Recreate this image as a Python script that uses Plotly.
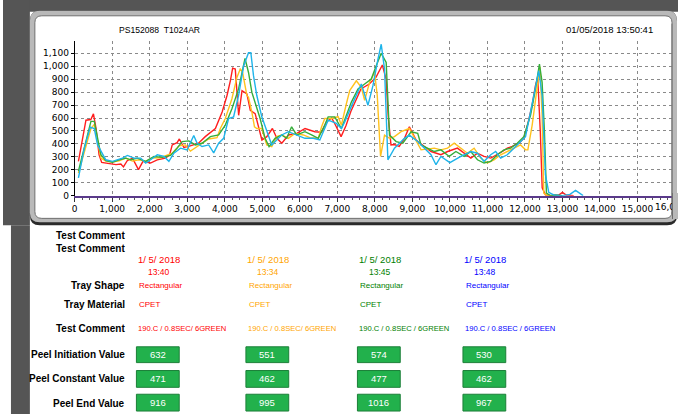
import plotly.graph_objects as go

W, H = 678, 419

# ---------------- data ----------------
red_x = [100, 300, 430, 500, 570, 650, 720, 900, 1100, 1230, 1300, 1400, 1540, 1700, 1820, 2020, 2200, 2420, 2530, 2600, 2730, 2790, 2910, 3080, 3300, 3480, 3750, 3930, 4060, 4150, 4210, 4280, 4370, 4460, 4590, 4680, 4810, 4990, 5120, 5270, 5390, 5520, 5700, 5920, 6140, 6400, 6580, 6710, 6850, 6960, 7100, 7230, 7360, 7630, 7850, 8030, 8200, 8300, 8360, 8430, 8520, 8650, 8790, 8920, 9100, 9320, 9500, 9760, 9940, 10200, 10380, 10560, 10735, 10910, 11090, 11265, 11400, 11530, 11660, 11840, 11970, 12080, 12190, 12280, 12340, 12410, 12460, 12550, 12700, 12900, 13000, 13100, 13300]
red_y = [265, 583, 588, 632, 519, 316, 257, 247, 240, 245, 222, 270, 290, 201, 265, 252, 277, 290, 316, 392, 410, 438, 372, 385, 405, 456, 519, 647, 774, 889, 985, 978, 621, 812, 787, 659, 634, 430, 456, 519, 443, 405, 469, 481, 519, 494, 490, 570, 600, 540, 456, 540, 650, 825, 863, 914, 1010, 900, 600, 392, 395, 380, 443, 532, 430, 380, 341, 316, 341, 367, 328, 290, 328, 303, 290, 316, 341, 367, 380, 405, 443, 558, 698, 850, 916, 494, 61, 5, 0, 5, 25, 5, 0]

yel_x = [100, 300, 433, 522, 637, 700, 830, 1000, 1185, 1361, 1538, 1715, 1892, 2069, 2290, 2467, 2600, 2777, 2953, 3085, 3218, 3395, 3572, 3793, 3882, 4014, 4191, 4324, 4412, 4470, 4589, 4633, 4721, 4792, 4854, 4987, 5119, 5252, 5385, 5517, 5695, 5870, 6092, 6268, 6491, 6580, 6666, 6843, 7021, 7109, 7241, 7330, 7507, 7639, 7728, 7860, 7993, 8064, 8152, 8258, 8390, 8523, 8700, 8921, 9231, 9584, 9761, 9938, 10115, 10292, 10469, 10646, 10822, 10999, 11176, 11353, 11530, 11706, 11883, 12016, 12078, 12193, 12326, 12400, 12458, 12502, 12590, 13000]
yel_y = [175, 370, 519, 551, 392, 290, 267, 260, 270, 290, 267, 277, 265, 290, 293, 316, 328, 385, 392, 344, 372, 405, 438, 448, 519, 596, 749, 914, 978, 960, 774, 760, 647, 532, 519, 519, 392, 379, 456, 469, 443, 481, 469, 448, 443, 532, 596, 596, 610, 545, 710, 812, 888, 838, 736, 876, 952, 774, 303, 468, 443, 456, 494, 519, 354, 367, 354, 367, 405, 367, 328, 367, 290, 252, 277, 316, 341, 367, 392, 354, 354, 545, 825, 995, 621, 20, 0, 0]

grn_x = [100, 300, 433, 522, 610, 698, 830, 1007, 1184, 1361, 1494, 1671, 1892, 2113, 2334, 2555, 2732, 2865, 3041, 3218, 3395, 3616, 3837, 4014, 4191, 4368, 4540, 4633, 4721, 4854, 4942, 5075, 5181, 5340, 5517, 5650, 5782, 5915, 6136, 6313, 6491, 6666, 6756, 6931, 7109, 7374, 7551, 7728, 7905, 8037, 8170, 8302, 8390, 8568, 8745, 8966, 9143, 9231, 9584, 9761, 9982, 10159, 10380, 10557, 10735, 10910, 11088, 11265, 11441, 11618, 11795, 11971, 12149, 12281, 12387, 12458, 12520, 12573, 12679, 12800, 13000]
grn_y = [190, 418, 574, 574, 443, 316, 270, 257, 277, 290, 277, 290, 265, 303, 296, 311, 367, 418, 423, 392, 405, 456, 469, 545, 672, 825, 1060, 952, 800, 685, 596, 443, 379, 443, 469, 443, 532, 469, 494, 469, 443, 545, 609, 609, 519, 723, 825, 863, 901, 1003, 1100, 1029, 468, 418, 405, 494, 481, 392, 341, 354, 303, 341, 303, 341, 277, 252, 265, 316, 354, 367, 405, 456, 621, 825, 1016, 876, 494, 20, 0, 5, 0]

cyn_x = [100, 257, 416, 522, 610, 698, 830, 1007, 1140, 1273, 1406, 1582, 1759, 1892, 2025, 2202, 2379, 2511, 2644, 2821, 2997, 3174, 3263, 3395, 3572, 3705, 3837, 3970, 4102, 4235, 4368, 4500, 4633, 4695, 4766, 4854, 4987, 5119, 5252, 5385, 5517, 5695, 5915, 6136, 6357, 6534, 6756, 6976, 7109, 7198, 7374, 7639, 7816, 7949, 8082, 8170, 8258, 8347, 8523, 8788, 8921, 9143, 9496, 9629, 9761, 10000, 10292, 10557, 10735, 10910, 11088, 11220, 11353, 11530, 11706, 11883, 12016, 12149, 12281, 12369, 12458, 12546, 12635, 12767, 13000, 13200, 13350, 13450, 13550]
cyn_y = [137, 367, 530, 519, 392, 341, 277, 265, 277, 290, 311, 290, 290, 252, 277, 316, 303, 265, 328, 367, 354, 465, 405, 380, 392, 330, 405, 443, 596, 608, 774, 1000, 1105, 1105, 927, 774, 609, 494, 392, 430, 469, 494, 469, 443, 443, 430, 583, 558, 519, 570, 690, 863, 698, 850, 1054, 1170, 978, 277, 367, 443, 468, 418, 316, 239, 303, 255, 303, 341, 328, 265, 316, 341, 290, 316, 367, 418, 456, 647, 850, 967, 774, 163, 25, 5, 0, 10, 40, 20, 0]

series_names = ["Red", "Yellow", "Green", "Blue"]
line_colors = ["#FF1E1E", "#FFC21E", "#35AE3A", "#1EB4EA"]
text_colors = ["#FF0000", "#FFA500", "#008000", "#0000FF"]

header_left = "PS152088  T1024AR"
header_right = "01/05/2018 13:50:41"

test_dates = ["1/ 5/ 2018", "1/ 5/ 2018", "1/ 5/ 2018", "1/ 5/ 2018"]
test_times = ["13:40", "13:34", "13:45", "13:48"]
tray_shape = ["Rectangular", "Rectangular", "Rectangular", "Rectangular"]
tray_material = ["CPET", "CPET", "CPET", "CPET"]
test_comment = ["190.C / 0.8SEC/ 6GREEN", "190.C / 0.8SEC/ 6GREEN", "190.C / 0.8SEC / 6GREEN", "190.C / 0.8SEC / 6GREEN"]
peel_initiation = [632, 551, 574, 530]
peel_constant = [471, 462, 477, 462]
peel_end = [916, 995, 1016, 967]

x_ticks = list(range(0, 16001, 1000))
y_ticks = list(range(0, 1101, 100))

# ---------------- helpers (pixel -> paper) ----------------
def fx(p):
    return p / W

def fy(p):
    return 1 - p / H

def rrect_path(x0, y0, x1, y1, r):
    pts = [
        ("M", [(x0 + r, y0)]), ("L", [(x1 - r, y0)]), ("Q", [(x1, y0), (x1, y0 + r)]),
        ("L", [(x1, y1 - r)]), ("Q", [(x1, y1), (x1 - r, y1)]), ("L", [(x0 + r, y1)]),
        ("Q", [(x0, y1), (x0, y1 - r)]), ("L", [(x0, y0 + r)]), ("Q", [(x0, y0), (x0 + r, y0)]),
    ]
    s = ""
    for cmd, ps in pts:
        s += cmd + " " + " ".join(f"{fx(a):.5f},{fy(b):.5f}" for a, b in ps) + " "
    return s + "Z"

fig = go.Figure()
for name, xs, ys, c in zip(series_names, [red_x, yel_x, grn_x, cyn_x], [red_y, yel_y, grn_y, cyn_y], line_colors):
    fig.add_trace(go.Scatter(x=xs, y=ys, mode="lines", name=name,
                             line=dict(color=c, width=1.4), hoverinfo="skip"))

BORDER = "#b9b9b9"
shapes = []
DARK = "#555555"
# dark background strips
shapes.append(dict(type="rect", xref="paper", yref="paper", x0=fx(0), x1=fx(W), y0=fy(0), y1=fy(12),
                   fillcolor=DARK, line=dict(width=0), layer="below"))
shapes.append(dict(type="rect", xref="paper", yref="paper", x0=fx(0), x1=fx(27), y0=fy(0), y1=fy(228),
                   fillcolor=DARK, line=dict(width=0), layer="below"))
shapes.append(dict(type="rect", xref="paper", yref="paper", x0=fx(8), x1=fx(27), y0=fy(228), y1=fy(H),
                   fillcolor=DARK, line=dict(width=0), layer="below"))
# panel
shapes.append(dict(type="path", xref="paper", yref="paper", path=rrect_path(27, 11, 677, 228, 10),
                   fillcolor="#2a2a2a", line=dict(width=0), layer="below"))
shapes.append(dict(type="path", xref="paper", yref="paper", path=rrect_path(27, 11, 677, 225, 10),
                   fillcolor=BORDER, line=dict(width=0), layer="below"))
shapes.append(dict(type="path", xref="paper", yref="paper", path=rrect_path(32, 16, 672, 221, 7),
                   fillcolor="#ffffff", line=dict(color="#6f6f6f", width=1), layer="below"))
# right border piece over the plot edge
shapes.append(dict(type="rect", xref="paper", yref="paper", x0=fx(672.5), x1=fx(677), y0=fy(24), y1=fy(216),
                   fillcolor=BORDER, line=dict(width=0), layer="above"))
shapes.append(dict(type="line", xref="paper", yref="paper", x0=fx(672), x1=fx(672), y0=fy(24), y1=fy(216),
                   line=dict(color="#6f6f6f", width=1), layer="above"))

annotations = []
def txt(t, x, y, size=9, color="#000000", xanchor="left", family="Liberation Sans", bold=False):
    annotations.append(dict(text=(f"<b>{t}</b>" if bold else t), x=fx(x), y=fy(y), xref="paper", yref="paper",
                            xanchor=xanchor, yanchor="middle", showarrow=False,
                            font=dict(size=size, color=color, family=family)))

txt(header_left, 115, 30, size=8.6)
txt(header_right, 655, 30, size=9.5, xanchor="right")

# last x tick label, cut by the panel border as in the source screenshot
txt(f"{x_ticks[-1]:,}"[:4], 653, 210, size=9, family="DejaVu Sans")
annotations.append(dict(text=" ", x=fx(675), y=fy(208), xref="paper", yref="paper", xanchor="center",
                        yanchor="middle", showarrow=False, width=6, height=26, bgcolor=BORDER,
                        borderpad=0, borderwidth=0, font=dict(size=9)))
annotations.append(dict(text=" ", x=fx(672), y=fy(208), xref="paper", yref="paper", xanchor="center",
                        yanchor="middle", showarrow=False, width=1, height=26, bgcolor="#6f6f6f",
                        borderpad=0, borderwidth=0, font=dict(size=9)))

LBL_R = 125
for label, yy in [("Test Comment", 238), ("Test Comment", 252), ("Tray Shape", 289), ("Tray Material", 308),
                  ("Test Comment", 332), ("Peel Initiation Value", 359), ("Peel Constant Value", 383),
                  ("Peel End Value", 408)]:
    txt(label, LBL_R, yy, size=10, xanchor="right", bold=True)

col_left = [134, 244, 356, 462]
box_w = 43
for i in range(4):
    cx = col_left[i] + box_w / 2 + 1
    c = text_colors[i]
    txt(test_dates[i], cx, 263, size=9.5, color=c, xanchor="center")
    txt(test_times[i], cx, 275, size=8.5, color=c, xanchor="center")
    txt(tray_shape[i], col_left[i] + 1, 289, size=8, color=c)
    txt(tray_material[i], col_left[i] + 1, 308, size=8, color=c)
    txt(test_comment[i], col_left[i], 332, size=7.6, color=c)
    for vals, (y0, y1) in [(peel_initiation, (351, 367)), (peel_constant, (375, 392)), (peel_end, (399, 416))]:
        shapes.append(dict(type="rect", xref="paper", yref="paper", x0=fx(col_left[i]), x1=fx(col_left[i] + box_w),
                           y0=fy(y0), y1=fy(y1), fillcolor="#22B14C", line=dict(color="#1c7f38", width=1)))
        txt(str(vals[i]), col_left[i] + box_w / 2, (y0 + y1) / 2, size=9.5, color="#ffffff", xanchor="center")

fig.update_layout(
    width=W, height=H, margin=dict(l=0, r=0, t=0, b=0),
    paper_bgcolor="#ffffff", plot_bgcolor="rgba(0,0,0,0)",
    showlegend=False, shapes=shapes, annotations=annotations,
    xaxis=dict(domain=[fx(72), fx(675)], range=[0, 16000], tickvals=x_ticks,
               ticktext=[f"{v:,}" if v < x_ticks[-1] else "" for v in x_ticks], showgrid=True,
               gridcolor="#8a8a8a", griddash="dot",
               gridwidth=1, zeroline=False, showline=True, linecolor="#5a3a8a", linewidth=2,
               ticks="outside", ticklen=4, tickcolor="#333333",
               minor=dict(dtick=200, ticks="outside", ticklen=2, tickcolor="#555555", showgrid=False),
               tickfont=dict(family="DejaVu Sans", size=9, color="#000000"), fixedrange=True),
    yaxis=dict(domain=[fy(198), fy(41)], range=[0, 1199], tickvals=y_ticks,
               ticktext=[f"{v:,}" for v in y_ticks], showgrid=True, gridcolor="#8a8a8a", griddash="dot",
               gridwidth=1, zeroline=False, showline=True, linecolor="#000000", linewidth=1,
               ticks="outside", ticklen=3, tickcolor="#000000",
               tickfont=dict(family="DejaVu Sans", size=9, color="#000000"), fixedrange=True),
)

fig.write_html("out.html", config={"displayModeBar": False},
               post_script="document.body.style.margin='0';document.body.style.overflow='hidden';")
